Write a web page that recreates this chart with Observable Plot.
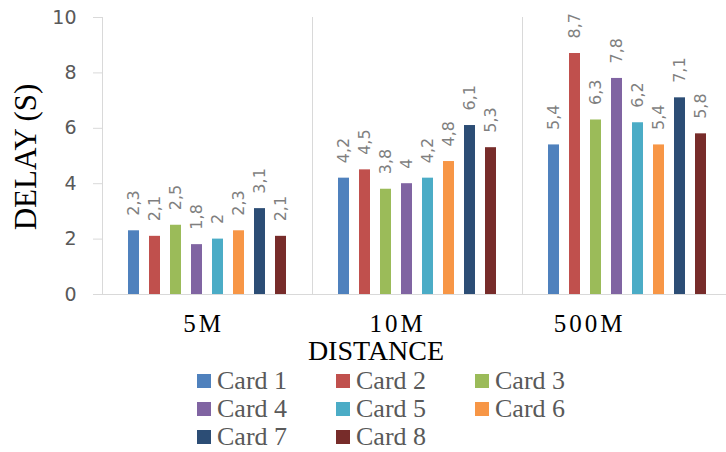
<!DOCTYPE html>
<html>
<head>
<meta charset="utf-8">
<script src="https://cdn.jsdelivr.net/npm/d3@7"></script>
<script src="https://cdn.jsdelivr.net/npm/@observablehq/plot@0.6"></script>
<style>
  body { margin: 0; background: #fff; }
  #wrap { position: relative; width: 726px; height: 452px; overflow: hidden; background: #fff; }
  .serif { font-family: "Liberation Serif", "Times New Roman", Times, "DejaVu Serif", serif; }
  #ytitle { position: absolute; left: 26px; top: 157px; transform: translate(-50%, -50%) rotate(-90deg);
    font-size: 31px; color: #000; white-space: nowrap; }
  #xtitle { position: absolute; left: 376px; top: 351px; transform: translate(-50%, -50%);
    font-size: 28px; color: #000; white-space: nowrap; line-height: 22px; height: 22px; }
  #legend { position: absolute; left: 197px; top: 367px; display: grid; grid-template-columns: 139px 139px 139px;
    font-size: 26px; color: #595959; line-height: 28px; }
  .item { display: flex; align-items: center; white-space: nowrap; height: 28px; overflow: visible; }
  .sw { width: 14px; height: 14px; margin-right: 6px; flex: none; }
  .fxlab text { font-family: "Liberation Serif", "Times New Roman", Times, "DejaVu Serif", serif; letter-spacing: 3px; font-weight: normal; }
</style>
</head>
<body>
<div id="wrap">
  <div id="chart"></div>
  <div id="ytitle" class="serif">DELAY (S)</div>
  <div id="xtitle" class="serif">DISTANCE</div>
  <div id="legend" class="serif"></div>
</div>
<script>
const distances = ["5M", "10M", "500M"];
const cards = ["Card 1", "Card 2", "Card 3", "Card 4", "Card 5", "Card 6", "Card 7", "Card 8"];
const colors = ["#4F81BD", "#C0504D", "#9BBB59", "#8064A2", "#4BACC6", "#F79646", "#2C4D75", "#772C2A"];
const delay5M   = [2.3, 2.1, 2.5, 1.8, 2.0, 2.3, 3.1, 2.1];
const delay10M  = [4.2, 4.5, 3.8, 4.0, 4.2, 4.8, 6.1, 5.3];
const delay500M = [5.4, 8.7, 6.3, 7.8, 6.2, 5.4, 7.1, 5.8];
const yTicks = [0, 2, 4, 6, 8, 10];

const series = [delay5M, delay10M, delay500M];
const data = [];
distances.forEach((d, i) => cards.forEach((c, j) => data.push({distance: d, card: c, value: series[i][j]})));

const fmt = v => String(v).replace(".", ",");
const fxAxis = (label, dx) => Plot.axisFx({anchor: "bottom", ticks: [label], dx, dy: 11, tickSize: 0, fontSize: 25,
  fill: "#000", fontWeight: "normal", label: null, className: "fxlab"});

const chart = Plot.plot({
  width: 726,
  height: 366,
  marginLeft: 102,
  marginRight: 0,
  marginTop: 17,
  marginBottom: 72,
  style: {fontFamily: "DejaVu Sans, sans-serif", background: "transparent"},
  fx: {domain: distances, range: [102, 732], padding: 0, label: null},
  x: {domain: cards, paddingInner: 0.48, paddingOuter: 1.2, axis: null},
  y: {domain: [0, 10], label: null},
  color: {domain: cards, range: colors},
  marks: [
    Plot.frame({anchor: "left", stroke: "#d9d9d9"}),
    Plot.barY(data, {fx: "distance", x: "card", y: "value", fill: "card"}),
    Plot.ruleY([0], {stroke: "#d9d9d9", strokeWidth: 1.2, insetLeft: -9}),
    Plot.text(data, {fx: "distance", x: "card", y: "value", text: d => fmt(d.value), rotate: -90,
      textAnchor: "start", lineAnchor: "middle", dy: -15, fontSize: 16, fill: "#7f7f7f"}),
    Plot.axisY({ticks: yTicks, tickSize: 9, tickPadding: 17, fontSize: 19, color: "#d9d9d9", fill: "#595959", label: null}),
    fxAxis("5M", -4),
    fxAxis("10M", -20),
    fxAxis("500M", -38)
  ]
});
document.getElementById("chart").appendChild(chart);

const legend = document.getElementById("legend");
cards.forEach((c, i) => {
  const item = document.createElement("div");
  item.className = "item";
  const sw = document.createElement("span");
  sw.className = "sw";
  sw.style.background = colors[i];
  item.appendChild(sw);
  item.appendChild(document.createTextNode(c));
  legend.appendChild(item);
});
</script>
</body>
</html>
